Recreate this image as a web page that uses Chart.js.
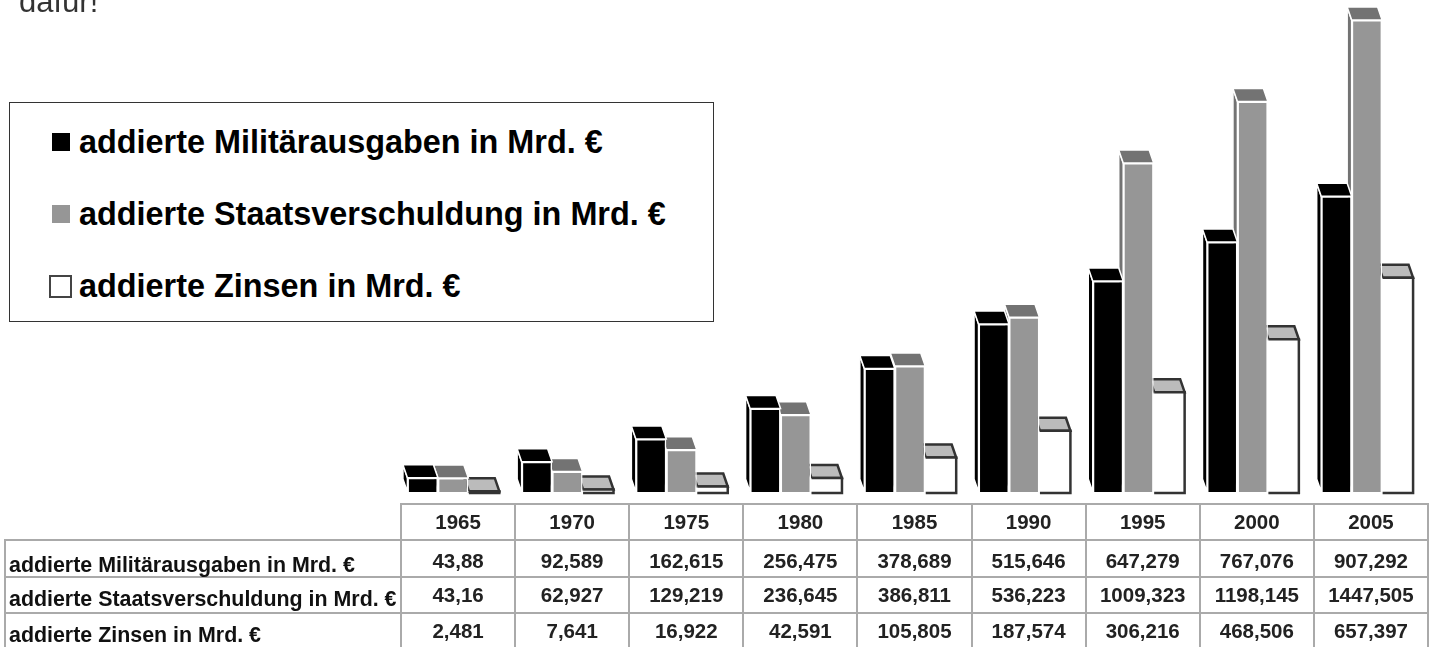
<!DOCTYPE html>
<html lang="de">
<head>
    <meta charset="UTF-8">
    <title>Addierte Militärausgaben, Staatsverschuldung und Zinsen</title>
    <script src="https://cdn.jsdelivr.net/npm/chart.js"></script>
    <style>
        html, body {
            margin: 0;
            padding: 0;
            background: #fff;
            width: 1433px;
            height: 647px;
            overflow: hidden;
            font-family: "Liberation Sans", Arial, sans-serif;
        }

        #chartBox {
            position: absolute;
            left: 0;
            top: 0;
            width: 1433px;
            height: 647px;
        }

        #intro {
            position: absolute;
            left: 19px;
            top: -18px;
            font-size: 31px;
            line-height: 40px;
            color: #333;
        }

        #legendBox {
            position: absolute;
            left: 9px;
            top: 102px;
            width: 703px;
            height: 218px;
            border: 1px solid #333;
            background: #fff;
        }

        .legend-row {
            position: absolute;
            left: 42px;
            font-size: 32.4px;
            font-weight: bold;
            line-height: 36px;
            color: #000;
            white-space: nowrap;
        }

        .legend-swatch {
            display: inline-block;
            box-sizing: border-box;
            width: 18px;
            height: 18px;
            margin-right: 9px;
            vertical-align: 2px;
        }

        .legend-swatch.outlined {
            width: 23px;
            height: 23px;
            margin-left: -3px;
            margin-right: 7px;
            vertical-align: -1px;
        }

        #dataTable {
            position: absolute;
            left: 4px;
            top: 502.5px;
            border-collapse: collapse;
            table-layout: fixed;
            width: 1425px;
            color: #222;
            font-weight: bold;
        }

        #dataTable td {
            border: 2px solid #aaa;
            height: 36.6px;
            padding: 0;
            text-align: center;
            font-size: 20.5px;
            line-height: 20px;
            box-sizing: border-box;
            white-space: nowrap;
        }

        #dataTable td.row-label {
            width: 396px;
            text-align: left;
            padding: 5px 0 0 3px;
            font-size: 21.4px;
            color: #111;
        }

        #dataTable tr.row-0 td { padding-top: 6px; }
        #dataTable tr.row-0 td.row-label { padding-top: 13px; }
        #dataTable tr.row-1 td.row-label { padding-top: 9px; }
        #dataTable tr.row-2 td { padding-bottom: 2px; }
        #dataTable tr.row-2 td.row-label { padding: 7px 0 0 3px; }

        #dataTable td.blank {
            border-top: none;
            border-left: none;
        }
    </style>
</head>
<body>
    <div id="chartBox"><canvas id="sumChart" width="1433" height="647"></canvas></div>
    <div id="intro">dafür!</div>
    <div id="legendBox"></div>
    <table id="dataTable"></table>

    <script>
        const years = ['1965', '1970', '1975', '1980', '1985', '1990', '1995', '2000', '2005'];
        const seriesNames = ['addierte Militärausgaben in Mrd. €', 'addierte Staatsverschuldung in Mrd. €', 'addierte Zinsen in Mrd. €'];
        const militaer = [43.88, 92.589, 162.615, 256.475, 378.689, 515.646, 647.279, 767.076, 907.292];
        const schulden = [43.16, 62.927, 129.219, 236.645, 386.811, 536.223, 1009.323, 1198.145, 1447.505];
        const zinsen = [2.481, 7.641, 16.922, 42.591, 105.805, 187.574, 306.216, 468.506, 657.397];

        const depthX = 4.5;
        const depthY = 13;

        // Draws the side and top faces behind each bar, the library only draws the front
        const boxFaces = {
            id: 'boxFaces',
            beforeDatasetDraw(chart, args) {
                const ds = chart.data.datasets[args.index];
                const ctx = chart.ctx;
                const shift = ds.edgeColor ? 0.5 : 0;
                args.meta.data.forEach(bar => {
                    const p = bar.getProps(['x', 'y', 'base', 'width'], true);
                    const left = p.x - p.width / 2 + shift;
                    const right = p.x + p.width / 2 + shift;
                    ctx.save();
                    ctx.lineJoin = 'miter';
                    ctx.lineWidth = ds.edgeColor ? 2.5 : 1.5;
                    ctx.strokeStyle = ds.edgeColor || '#fff';

                    // the third series has its side hidden behind the grey bar
                    if (!ds.edgeColor) {
                        ctx.fillStyle = ds.topColor;
                        ctx.beginPath();
                        ctx.moveTo(left, p.y);
                        ctx.lineTo(left - depthX, p.y - depthY);
                        ctx.lineTo(left - depthX, p.base - depthY);
                        ctx.lineTo(left, p.base);
                        ctx.closePath();
                        ctx.fill();
                        ctx.stroke();
                    }

                    ctx.fillStyle = ds.topColor;
                    ctx.beginPath();
                    ctx.moveTo(left, p.y);
                    ctx.lineTo(left - depthX, p.y - depthY);
                    ctx.lineTo(right - depthX, p.y - depthY);
                    ctx.lineTo(right, p.y);
                    ctx.closePath();
                    ctx.fill();
                    ctx.stroke();
                    ctx.restore();
                });
            },
            afterDatasetDraw(chart, args) {
                const ds = chart.data.datasets[args.index];
                if (!ds.edgeColor) return;
                const ctx = chart.ctx;
                args.meta.data.forEach(bar => {
                    const p = bar.getProps(['x', 'y', 'base', 'width'], true);
                    const left = p.x - p.width / 2 + 0.5;
                    const right = p.x + p.width / 2 + 0.5;
                    ctx.save();
                    ctx.strokeStyle = ds.edgeColor;
                    ctx.lineWidth = 2.5;
                    ctx.beginPath();
                    ctx.moveTo(left, p.y);
                    ctx.lineTo(right, p.y);
                    ctx.lineTo(right, p.base + 1);
                    ctx.lineTo(left, p.base + 1);
                    ctx.stroke();
                    ctx.restore();
                });
            }
        };

        new Chart(document.getElementById('sumChart'), {
            type: 'bar',
            data: {
                labels: years,
                datasets: [
                    { label: seriesNames[0], data: militaer, backgroundColor: '#000', topColor: '#000', borderColor: '#fff', borderWidth: 1.5 },
                    { label: seriesNames[1], data: schulden, backgroundColor: '#969696', topColor: '#737373', borderColor: '#fff', borderWidth: 1.5 },
                    { label: seriesNames[2], data: zinsen, backgroundColor: '#fff', topColor: '#bbb', edgeColor: '#333', borderWidth: 0 }
                ]
            },
            options: {
                responsive: false,
                animation: false,
                layout: { padding: { left: 396, right: 9, top: 3, bottom: 155 } },
                plugins: { legend: { display: false }, tooltip: { enabled: false } },
                datasets: { bar: { categoryPercentage: 0.8, barPercentage: 1 } },
                scales: {
                    x: { display: false },
                    y: { display: false, min: 0, max: 1500 }
                }
            },
            plugins: [boxFaces]
        });

        // Legend box
        const swatches = [
            '<span class="legend-swatch" style="background:#000"></span>',
            '<span class="legend-swatch" style="background:#969696"></span>',
            '<span class="legend-swatch outlined" style="background:#fff;border:2.5px solid #444"></span>'
        ];
        const legendBox = document.getElementById('legendBox');
        seriesNames.forEach((name, i) => {
            const row = document.createElement('div');
            row.className = 'legend-row';
            row.style.top = (21 + i * 72) + 'px';
            row.innerHTML = swatches[i] + name;
            legendBox.appendChild(row);
        });

        // Data table under the bars
        function formatValue(v) {
            return String(v).replace('.', ',');
        }

        const table = document.getElementById('dataTable');
        let html = '<tr><td class="row-label blank"></td>';
        years.forEach(y => { html += '<td>' + y + '</td>'; });
        html += '</tr>';
        [militaer, schulden, zinsen].forEach((values, i) => {
            html += '<tr class="row-' + i + '"><td class="row-label">' + seriesNames[i] + '</td>';
            values.forEach(v => { html += '<td>' + formatValue(v) + '</td>'; });
            html += '</tr>';
        });
        table.innerHTML = html;
    </script>
</body>
</html>
